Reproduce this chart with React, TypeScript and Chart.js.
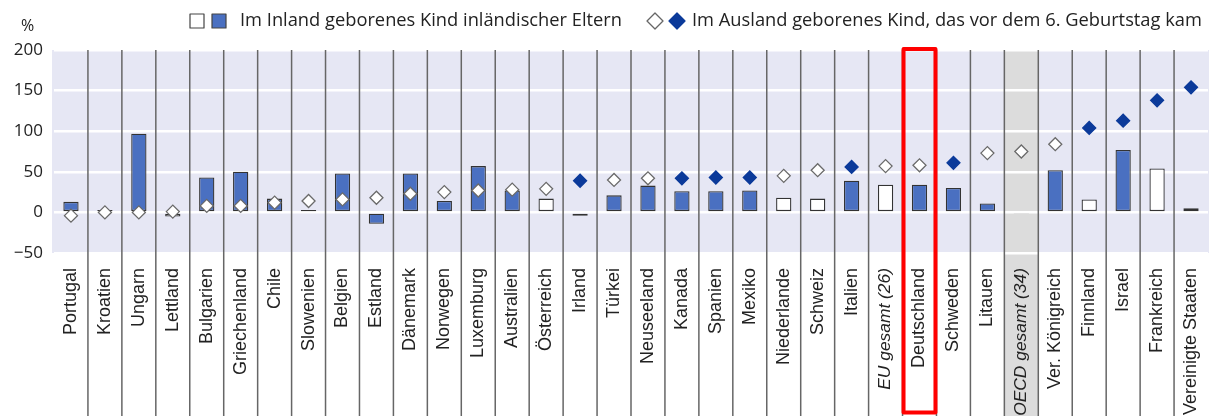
import React, { useEffect, useRef } from "react";
import { Chart, registerables } from "chart.js";

Chart.register(...registerables);

const categories = [
  "Portugal", "Kroatien", "Ungarn", "Lettland", "Bulgarien", "Griechenland", "Chile",
  "Slowenien", "Belgien", "Estland", "Dänemark", "Norwegen", "Luxemburg", "Australien",
  "Österreich", "Irland", "Türkei", "Neuseeland", "Kanada", "Spanien", "Mexiko",
  "Niederlande", "Schweiz", "Italien", "EU gesamt (26)", "Deutschland", "Schweden",
  "Litauen", "OECD gesamt (34)", "Ver. Königreich", "Finnland", "Israel", "Frankreich",
  "Vereinigte Staaten",
];

// Bars: Im Inland geborenes Kind inländischer Eltern
const nativeValues = [
  13, 3, 97, -5, 43, 50, 17, 3, 48, -14, 48, 14, 57, 27, 17, -4, 21, 33, 26, 26, 27,
  18, 17, 39, 34, 34, 30, 11, -2, 52, 16, 77, 54, 5,
];
const nativeSignificant = [
  1, 0, 1, 0, 1, 1, 1, 0, 1, 1, 1, 1, 1, 1, 0, 0, 1, 1, 1, 1, 1,
  0, 0, 1, 0, 1, 1, 1, 0, 1, 0, 1, 0, 0,
];

// Diamonds: Im Ausland geborenes Kind, das vor dem 6. Geburtstag kam
const abroadValues = [
  -4, 0, 0, 1, 8, 8, 12, 14, 16, 18, 23, 25, 27, 28, 29, 39, 40, 42, 42, 43, 43,
  45, 52, 56, 57, 58, 61, 73, 75, 84, 104, 113, 138, 154,
];
const abroadSignificant = [
  0, 0, 0, 0, 0, 0, 0, 0, 0, 0, 0, 0, 0, 0, 0, 1, 0, 0, 1, 1, 1,
  0, 0, 1, 0, 0, 1, 0, 0, 0, 1, 1, 1, 1,
];

const yTicks = [-50, 0, 50, 100, 150, 200];
const italicCategories = ["EU gesamt (26)", "OECD gesamt (34)"];
const shadedCategory = "OECD gesamt (34)";
const highlightedCategory = "Deutschland";
const legendNative = "Im Inland geborenes Kind inländischer Eltern";
const legendAbroad = "Im Ausland geborenes Kind, das vor dem 6. Geburtstag kam";
const unitLabel = "%";

const BLUE_BAR = "#4a70c1";
const BLUE_DIAMOND = "#0b3a9a";
const PLOT_BG = "#e6e7f4";
const SHADE = "#dcdcdc";
const DIVIDER = "#666666";
const TEXT = "#222222";
const LEGEND_FONT = "18.3px 'Open Sans'";

export default function App() {
  const ref = useRef<HTMLCanvasElement>(null);

  useEffect(() => {
    document.body.style.margin = "0";
    const canvas = ref.current!;

    const decor = {
      id: "decor",
      afterLayout(chart: any) {
        // stretch the plot to the right edge (Chart.js reserves room for the last rotated label)
        const a = chart.chartArea;
        const x = chart.scales.x;
        const right = chart.width - 1;
        a.right = right;
        a.width = a.right - a.left;
        x.right = right;
        x.width = x.right - x.left;
        x.configure();
      },
      beforeDraw(chart: any) {
        const { ctx, chartArea: a, scales } = chart;
        const x = scales.x;
        const step = (a.right - a.left) / categories.length;
        ctx.save();
        ctx.fillStyle = PLOT_BG;
        ctx.fillRect(a.left - 2, a.top, a.right - a.left + 3, a.bottom - a.top);
        const si = categories.indexOf(shadedCategory);
        const cx = x.getPixelForValue(si);
        ctx.fillStyle = SHADE;
        ctx.fillRect(cx - step / 2, a.top, step, chart.height - a.top);
        ctx.restore();
      },
      beforeDatasetsDraw(chart: any) {
        const { ctx, chartArea: a, scales } = chart;
        const x = scales.x;
        ctx.save();
        ctx.strokeStyle = DIVIDER;
        ctx.lineWidth = 1.5;
        for (let i = 1; i < categories.length; i++) {
          const px = (x.getPixelForValue(i - 1) + x.getPixelForValue(i)) / 2;
          ctx.beginPath();
          ctx.moveTo(px, a.top);
          ctx.lineTo(px, chart.height);
          ctx.stroke();
        }
        ctx.restore();
      },
      afterDraw(chart: any) {
        const { ctx, chartArea: a, scales } = chart;
        const x = scales.x;
        const step = (a.right - a.left) / categories.length;
        ctx.save();
        // red highlight box
        const hi = categories.indexOf(highlightedCategory);
        const hx = x.getPixelForValue(hi);
        ctx.strokeStyle = "#ff0000";
        ctx.lineWidth = 4;
        ctx.lineJoin = "round";
        ctx.strokeRect(hx - step / 2 + 1, a.top - 1, step - 2, chart.height - a.top - 2.5);

        // unit label
        ctx.fillStyle = TEXT;
        ctx.font = "16px 'Open Sans'";
        ctx.textAlign = "left";
        ctx.textBaseline = "middle";
        ctx.fillText(unitLabel, 21, 26);

        // legend
        const ly = 21;
        ctx.lineWidth = 1.2;
        ctx.strokeStyle = "#444";
        ctx.fillStyle = "#ffffff";
        ctx.fillRect(190, 14, 14, 14);
        ctx.strokeRect(190, 14, 14, 14);
        ctx.fillStyle = BLUE_BAR;
        ctx.fillRect(212, 14, 14, 14);
        ctx.strokeRect(212, 14, 14, 14);
        ctx.fillStyle = TEXT;
        ctx.font = LEGEND_FONT;
        ctx.fillText(legendNative, 240, ly);

        const diamond = (cx: number, fill: string, stroke: string) => {
          ctx.beginPath();
          ctx.moveTo(cx, ly - 8);
          ctx.lineTo(cx + 8, ly);
          ctx.lineTo(cx, ly + 8);
          ctx.lineTo(cx - 8, ly);
          ctx.closePath();
          ctx.fillStyle = fill;
          ctx.fill();
          ctx.strokeStyle = stroke;
          ctx.lineWidth = 1.3;
          ctx.stroke();
        };
        diamond(655, "#ffffff", "#666");
        diamond(677, BLUE_DIAMOND, BLUE_DIAMOND);
        ctx.fillStyle = TEXT;
        ctx.font = LEGEND_FONT;
        ctx.fillText(legendAbroad, 692, ly);
        ctx.restore();
      },
    };

    const chart = new Chart(canvas, {
      type: "bar",
      data: {
        labels: categories,
        datasets: [
          {
            type: "line",
            label: legendAbroad,
            data: abroadValues,
            showLine: false,
            pointStyle: "rectRot",
            pointRadius: 6.5,
            pointBorderWidth: 1.3,
            pointBackgroundColor: abroadSignificant.map((s) => (s ? BLUE_DIAMOND : "#ffffff")),
            pointBorderColor: abroadSignificant.map((s) => (s ? BLUE_DIAMOND : "#6a6a6a")),
            order: 0,
          } as any,
          {
            type: "bar",
            label: legendNative,
            data: nativeValues,
            backgroundColor: nativeSignificant.map((s) => (s ? BLUE_BAR : "#ffffff")),
            borderColor: "#333333",
            borderWidth: 1.3,
            borderSkipped: false,
            barPercentage: 0.45,
            categoryPercentage: 1,
            order: 1,
          },
        ],
      },
      options: {
        responsive: false,
        animation: false,
        events: [],
        layout: { padding: { top: 50, right: 1, left: 0, bottom: 0 } },
        plugins: { legend: { display: false }, tooltip: { enabled: false } },
        scales: {
          x: {
            offset: true,
            grid: { display: false },
            border: { display: false },
            ticks: {
              autoSkip: false,
              minRotation: 90,
              maxRotation: 90,
              padding: 7,
              color: TEXT,
              font: (ctx: any) => ({
                family: "'Liberation Sans', Arial, sans-serif",
                size: italicCategories.includes(categories[ctx.index]) ? 17.4 : 18,
                style: italicCategories.includes(categories[ctx.index]) ? "italic" : "normal",
              }),
            },
            afterFit: (scale: any) => {
              scale.height = 163;
            },
          },
          y: {
            min: yTicks[0],
            max: yTicks[yTicks.length - 1],
            afterBuildTicks: (scale: any) => {
              scale.ticks = yTicks.map((v) => ({ value: v }));
            },
            grid: { color: "#ffffff", lineWidth: 2.5, drawTicks: false },
            border: { display: false },
            ticks: {
              padding: 11,
              color: TEXT,
              font: { family: "'Open Sans'", size: 17 },
              callback: (v: any) => String(v).replace("-", "\u2212"),
            },
            afterFit: (scale: any) => {
              scale.width = 54;
            },
          },
        },
      },
      plugins: [decor],
    });

    return () => chart.destroy();
  }, []);

  return <canvas ref={ref} width={1209} height={416} style={{ display: "block" }} />;
}
